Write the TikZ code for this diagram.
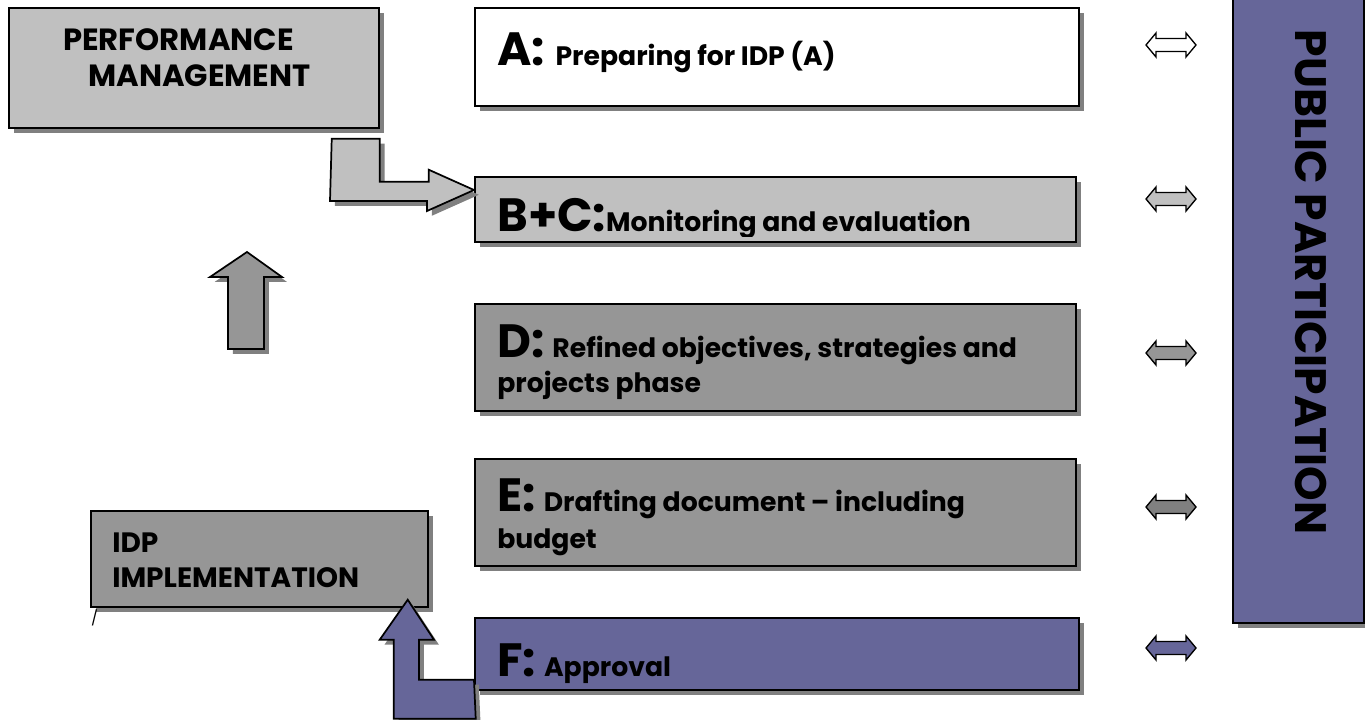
\documentclass[tikz,border=0pt]{standalone}
\usepackage{fontspec}
\setmainfont{Poppins}
\usetikzlibrary{calc,shadows,positioning}

\definecolor{paleGray}{HTML}{C0C0C0}
\definecolor{midGray}{HTML}{969696}
\definecolor{darkGray}{HTML}{808080}
\definecolor{slate}{HTML}{666699}

% big phase letter in front of each stage text
\newcommand{\phase}[1]{{\fontsize{35}{40}\selectfont #1}}

\tikzset{
  shadowed/.style={drop shadow={shadow xshift=3.6pt, shadow yshift=-3.6pt, fill=darkGray, opacity=1}},
  panel/.style 2 args={draw, line width=1.3pt, shadowed, anchor=north west, inner sep=0pt,
    minimum width=#1*0.75pt, minimum height=#2*0.75pt},
  txt/.style={anchor=base west, inner sep=0pt, font=\bfseries\fontsize{20}{24}\selectfont},
  head/.style={txt, font=\bfseries\fontsize{23}{27}\selectfont},
  block/.style={draw, line width=1.3pt, line join=miter},
  dblarrow/.pic={
    \path[draw, line width=1pt, pic actions] (-25,0) -- (-15,-12) -- (-15,-6.5) -- (15,-6.5)
      -- (15,-12) -- (25,0) -- (15,12) -- (15,6.5) -- (-15,6.5) -- (-15,12) -- cycle;
  }
}

\begin{document}
\begin{tikzpicture}[x=0.75pt,y=-0.75pt]
\useasboundingbox (0,0) rectangle (1365,720);

% Left column: performance management and implementation
\node[panel={370}{120}, fill=paleGray] (pm) at (8,7) {};
\node[head] (pmTop) at (63,51) {PERFORMANCE};
\node[head] (pmBottom) at (88,87) {MANAGEMENT};

\draw[block, fill=midGray, shadowed] (228,349) -- (228,277) -- (210,277) -- (247,252)
  -- (282,277) -- (264,277) -- (264,349) -- cycle;

\node[panel={337}{96}, fill=midGray] (impl) at (90,510) {};
\node[head, font=\bfseries\fontsize{21}{25}\selectfont] (implTop) at (112,552) {IDP};
\node[head, font=\bfseries\fontsize{21}{25}\selectfont] (implBottom) at (112,587) {IMPLEMENTATION};
\node[inner sep=0pt, font=\fontsize{11}{12}\selectfont] (slash) at (94.5,618) {/};

% Stages A to F
\node[panel={604}{98}, fill=white] (a) at (474,7) {};
\node[txt] (aText) at (497,66) {\phase{A:}\hspace{8pt}Preparing for IDP (A)};

\node[panel={601}{65}, fill=paleGray] (bc) at (474,176) {};
\begin{scope}
  \clip (bc.north west) rectangle ($(bc.south east)+(0,-6)$);
  \node[txt] (bcText) at (497,232) {\phase{B+C:}Monitoring and evaluation};
\end{scope}

\node[panel={601}{107}, fill=midGray] (d) at (474,303) {};
\node[txt] (dTop) at (497,358) {\phase{D:}\hspace{6pt}Refined objectives, strategies and};
\node[txt] (dBottom) at (497,393) {projects phase};

\node[panel={601}{107}, fill=midGray] (e) at (474,458) {};
\node[txt] (eTop) at (497,512) {\phase{E:}\hspace{6pt}Drafting document – including};
\node[txt] (eBottom) at (497,548) {budget};

\node[panel={604}{72}, fill=slate] (f) at (474,617) {};

% arrow from approval up into implementation
\draw[block, fill=slate, shadowed] ($(f.south west)+(0,-11)$) -- ++(-55,0) -- ++(0,-40)
  -- ++(15,0) -- ($(impl.south east)+(-21,-8)$) -- ++(-28,40) -- ++(14,0) -- ++(0,79)
  -- ++(82,0) -- cycle;
\node[txt] (fText) at (497,676) {\phase{F:}\hspace{6pt}Approval};

% arrow from performance management into B+C
\draw[block, fill=paleGray, shadowed] ($(pm.south east)+(-48,10)$) -- ++(48,0) -- ++(0,43)
  -- ++(49,0) -- ++(0,-12) -- ($(bc.north west)+(0,14)$) -- ++(-47,21) -- ++(0,-10)
  -- ++(-97,0) -- cycle;

% Public participation column
\node[panel={131}{632}, fill=slate] (pp) at (1232,-10) {};
\node[rotate=-90, inner sep=0pt, font=\bfseries\fontsize{33}{39}\selectfont] (ppText)
  at (1311,282) {PUBLIC PARTICIPATION};

\pic[fill=white] at (1171,45) {dblarrow};
\pic[fill=paleGray] at (1171,199) {dblarrow};
\pic[fill=midGray] at (1171,353) {dblarrow};
\pic[fill=darkGray] at (1171,507) {dblarrow};
\pic[fill=slate] at (1171,648) {dblarrow};
\end{tikzpicture}
\end{document}
